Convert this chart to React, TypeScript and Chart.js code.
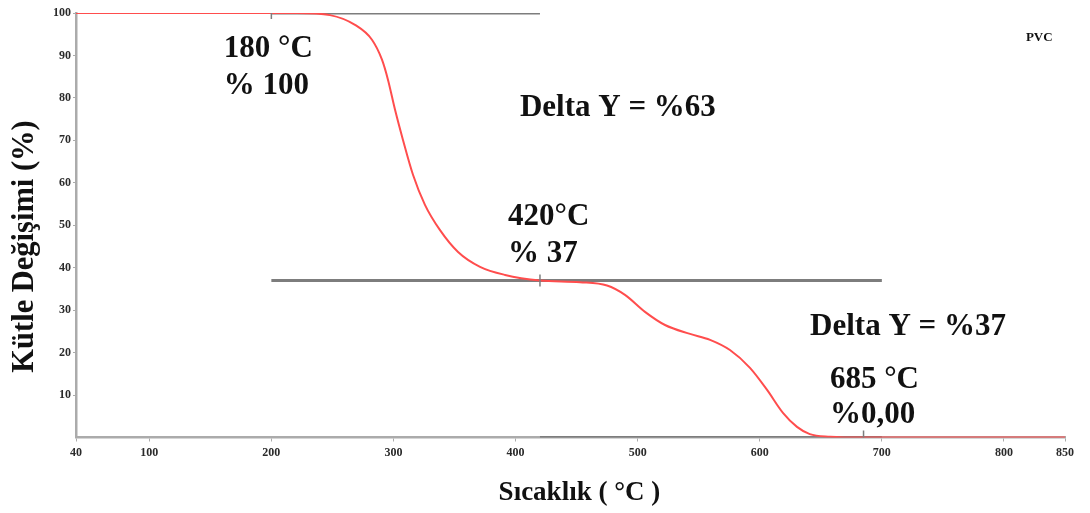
import React, { useEffect, useRef } from "react";
import { Chart, registerables } from "chart.js";

Chart.register(...registerables);

// TGA curve of PVC: temperature (°C) vs. remaining mass (%)
const temperatures = [
  40, 180, 221, 248, 268.5, 282.4, 290.6, 295.5, 301.3, 307.8, 316, 325.8, 338,
  352.9, 370.9, 391.4, 420, 452.8, 474.9, 489.6, 506, 522.4, 542.9, 559.3,
  575.6, 592, 606, 619, 630.5, 641, 657.5, 685, 850,
];
const massPercent = [
  100, 100, 100, 99.5, 97.2, 93.7, 89, 84.3, 77.2, 70.1, 61.9, 54.8, 48.9, 43.7,
  40.2, 38.3, 37, 36.6, 35.8, 33.6, 29.6, 26.5, 24.4, 23, 20.6, 16.4, 11.2, 5.8,
  2.5, 0.8, 0.2, 0, 0,
];

// Reference lines marking the two mass-loss steps
const onsetLineX = [200, 420];
const onsetLineY = [100, 100];
const midLineX = [200, 700];
const midLineY = [37, 37];
const endLineX = [420, 700];
const endLineY = [0, 0];

// Axis ticks
const xTickValues = [40, 100, 200, 300, 400, 500, 600, 700, 800, 850];
const yTickValues = [10, 20, 30, 40, 50, 60, 70, 80, 90, 100];

const xTitle = "Sıcaklık ( °C )";
const yTitle = "Kütle Değişimi (%)";

const SERIF = '"Liberation Serif", "Times New Roman", serif';
const GRAY = "#7d7d7d";
const AXIS = "#ababab";
const RED = "#ff4d4d";

type Note = { lines: string[]; x: number; y: number[]; size: number };

const notes: Note[] = [
  { lines: ["180 °C", "% 100"], x: 161, y: [91.6, 82.8], size: 31 },
  { lines: ["Delta Y = %63"], x: 403.6, y: [77.7], size: 31 },
  { lines: ["420°C", "% 37"], x: 393.8, y: [52, 43.3], size: 31 },
  { lines: ["Delta Y = %37"], x: 641.2, y: [26], size: 31 },
  { lines: ["685 °C", "%0,00"], x: 657.5, y: [13.5, 5.3], size: 31 },
  { lines: ["PVC"], x: 818, y: [94.2], size: 13 },
];

// Small vertical markers at the step boundaries
const markers = [
  { x: 200, y: 100, up: 0, down: 6 },
  { x: 420, y: 37, up: 6, down: 6 },
  { x: 685, y: 0, up: 7, down: 0 },
];

const notesPlugin = {
  id: "notes",
  afterDatasetsDraw(chart: any) {
    const { ctx, scales, chartArea } = chart;
    const xs = scales.x;
    const ys = scales.y;
    ctx.save();
    ctx.strokeStyle = GRAY;
    ctx.lineWidth = 1.5;
    for (const m of markers) {
      const px = xs.getPixelForValue(m.x);
      const py = ys.getPixelForValue(m.y);
      ctx.beginPath();
      ctx.moveTo(px, py - m.up);
      ctx.lineTo(px, py + m.down);
      ctx.stroke();
    }
    ctx.fillStyle = "#111";
    ctx.textAlign = "left";
    ctx.textBaseline = "middle";
    for (const n of notes) {
      ctx.font = `bold ${n.size}px ${SERIF}`;
      const px = xs.getPixelForValue(n.x);
      n.lines.forEach((t, i) => {
        ctx.fillText(t, px, ys.getPixelForValue(n.y[i]));
      });
    }

    // Axis titles
    ctx.textAlign = "center";
    ctx.font = `bold 27px ${SERIF}`;
    ctx.fillText(xTitle, chartArea.left + chartArea.width * 0.509, 493);
    ctx.translate(25, chartArea.top + chartArea.height * 0.55);
    ctx.rotate(-Math.PI / 2);
    ctx.font = `bold 30.5px ${SERIF}`;
    ctx.fillText(yTitle, 0, 0);
    ctx.restore();
  },
};

export default function App() {
  const canvasRef = useRef<HTMLCanvasElement>(null);

  useEffect(() => {
    document.body.style.margin = "0";
    const canvas = canvasRef.current;
    if (!canvas) return;

    const toPoints = (xv: number[], yv: number[]) =>
      xv.map((x, i) => ({ x, y: yv[i] }));

    const refLine = (xv: number[], yv: number[]) => ({
      data: toPoints(xv, yv),
      borderColor: GRAY,
      borderWidth: 3,
      pointRadius: 0,
      order: 2,
    });

    const tickFont = { family: SERIF, size: 12, weight: "bold" as const };

    const chart = new Chart(canvas, {
      type: "line",
      data: {
        datasets: [
          {
            label: "PVC",
            data: toPoints(temperatures, massPercent),
            borderColor: RED,
            borderWidth: 2,
            pointRadius: 0,
            cubicInterpolationMode: "monotone",
            order: 1,
          },
          refLine(onsetLineX, onsetLineY),
          refLine(midLineX, midLineY),
          refLine(endLineX, endLineY),
        ] as any,
      },
      options: {
        animation: false,
        responsive: false,
        events: [],
        layout: { padding: { top: 13, right: 25, left: 0, bottom: 0 } },
        plugins: {
          legend: { display: false },
          tooltip: { enabled: false },
        },
        scales: {
          x: {
            type: "linear",
            min: 40,
            max: 850,
            afterBuildTicks: (scale: any) => {
              scale.ticks = xTickValues.map((v) => ({ value: v }));
            },
            afterFit: (scale: any) => {
              scale.height = 75.5;
            },
            ticks: {
              autoSkip: false,
              maxRotation: 0,
              padding: 4,
              color: "#2a2a2a",
              font: tickFont,
              callback: (v: any) => String(v),
            },
            grid: {
              display: true,
              drawOnChartArea: false,
              tickLength: 4,
              color: AXIS,
              lineWidth: 1,
            },
            border: { display: true, color: AXIS, width: 2.5 },
          },
          y: {
            type: "linear",
            min: 0,
            max: 100,
            afterBuildTicks: (scale: any) => {
              scale.ticks = yTickValues.map((v) => ({ value: v }));
            },
            afterFit: (scale: any) => {
              scale.width = 76;
            },
            ticks: {
              autoSkip: false,
              padding: 2,
              color: "#2a2a2a",
              font: tickFont,
              callback: (v: any) => String(v),
            },
            grid: {
              display: true,
              drawOnChartArea: false,
              tickLength: 3,
              color: AXIS,
              lineWidth: 1,
            },
            border: { display: true, color: AXIS, width: 2.5 },
          },
        },
      },
      plugins: [notesPlugin],
    });

    return () => chart.destroy();
  }, []);

  return (
    <canvas
      ref={canvasRef}
      width={1090}
      height={513}
      style={{ display: "block", width: 1090, height: 513 }}
    />
  );
}
